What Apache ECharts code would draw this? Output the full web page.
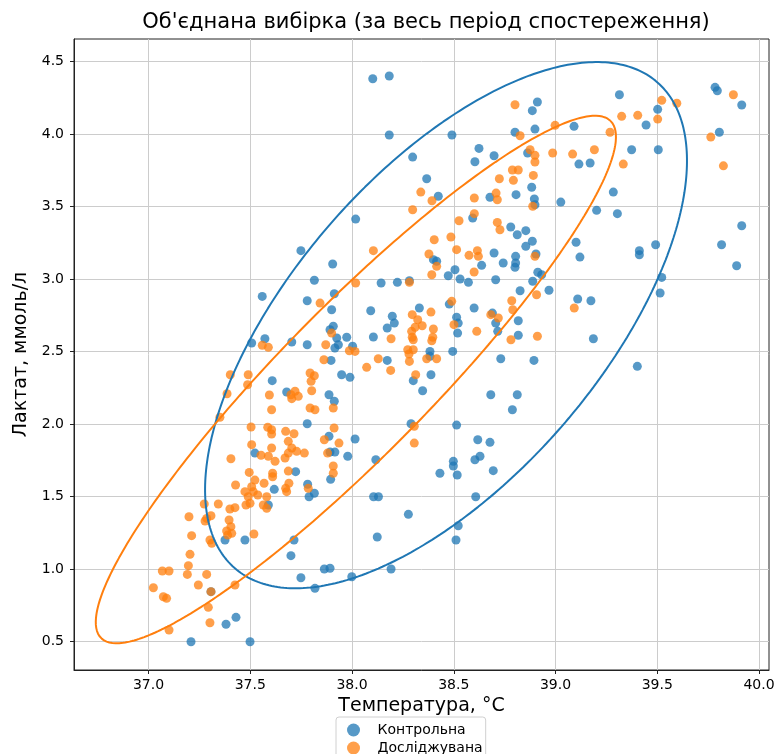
<!DOCTYPE html>
<html>
<head>
<meta charset="utf-8">
<script src="https://cdn.jsdelivr.net/npm/echarts@6/dist/echarts.min.js"></script>
<style>html,body{margin:0;padding:0;background:#fff}#c{width:780px;height:754px}</style>
</head>
<body>
<div id="c"></div>
<script>
var titleText = "Об'єднана вибірка (за весь період спостереження)";
var xName = "Температура, °C";
var yName = "Лактат, ммоль/л";
var seriesNames = ["Контрольна", "Досліджувана"];
var xTicks = [37.0, 37.5, 38.0, 38.5, 39.0, 39.5, 40.0];
var yTicks = [0.5, 1.0, 1.5, 2.0, 2.5, 3.0, 3.5, 4.0, 4.5];

var controlData = [
[38.102,4.380],[38.183,4.399],[38.183,3.992],[38.491,3.992],[38.298,3.840],[38.624,3.900],[38.604,3.808],[38.698,3.849],[38.367,3.691],[38.424,3.570],[38.018,3.413],[38.911,4.220],[38.886,4.160],[38.801,4.011],[38.899,4.033],[38.863,3.868],[38.883,3.632],[38.806,3.581],[38.678,3.563],[38.896,3.551],[38.899,3.512],[38.593,3.420],[38.780,3.358],[38.812,3.305],[38.854,3.333],[38.886,3.260],[38.854,3.225],
[39.091,4.052],[39.314,4.270],[39.502,4.169],[39.445,4.061],[39.784,4.321],[39.795,4.297],[39.915,4.199],[39.805,4.011],[39.374,3.891],[39.505,3.891],[39.115,3.792],[39.170,3.799],[39.284,3.599],[39.026,3.530],[39.202,3.473],[39.304,3.450],[39.915,3.367],[39.101,3.253],[39.492,3.236],[39.816,3.236],
[37.749,3.195],[37.559,2.880],[37.780,2.850],[37.572,2.588],[37.507,2.559],[37.704,2.566],[37.780,2.547],[37.608,2.299],[37.679,2.221],[37.780,2.002],[37.523,1.800],
[37.723,1.672],[37.618,1.550],[37.589,1.442],[37.376,1.201],[37.474,1.201],[37.715,1.201],[37.700,1.093],[37.749,0.941],[37.307,0.845],[37.381,0.620],[37.430,0.668],[37.209,0.500],[37.499,0.500],
[38.400,3.133],[38.416,3.122],[37.905,3.103],[38.698,3.179],[38.804,3.156],[38.804,3.110],[38.801,3.080],[38.904,3.172],[38.637,3.094],[38.743,3.110],[38.506,3.064],[38.473,3.022],[38.531,3.000],[38.572,2.977],[38.706,2.995],[38.888,2.984],[38.913,3.046],[37.815,2.991],[38.143,2.972],[38.223,2.977],[38.282,2.988],[37.913,2.898],[37.900,2.788],[38.092,2.781],[38.331,2.800],[38.478,2.827],[38.600,2.800],[38.690,2.765],[38.706,2.696],[38.817,2.712],[38.826,2.919],[38.198,2.743],[38.208,2.696],[38.173,2.662],[38.105,2.600],[38.514,2.736],[38.522,2.696],[38.519,2.627],[38.716,2.639],[38.817,2.612],[37.892,2.650],[37.908,2.674],[37.925,2.593],[37.933,2.547],[37.974,2.598],[37.916,2.524],[38.003,2.536],[37.897,2.439],[38.173,2.439],[38.383,2.501],[38.383,2.467],[38.495,2.501],[38.301,2.299],[38.388,2.340],[38.347,2.230],[38.731,2.450],[38.894,2.439],[38.682,2.202],[38.812,2.202],[38.788,2.099],[37.949,2.340],[37.990,2.322],[37.887,2.202],[37.913,2.157],[38.290,2.002],[38.514,1.993],[38.015,1.897],[37.887,1.916],[37.892,1.807],[37.916,1.807],[37.979,1.778],[38.117,1.754],[38.618,1.892],[38.678,1.874],[38.604,1.754],[38.629,1.778],[38.498,1.743],
[37.895,1.619],[37.782,1.585],[37.815,1.523],[37.789,1.499],[38.106,1.499],[38.130,1.499],[38.277,1.378],[38.124,1.222],[38.432,1.661],[38.498,1.711],[38.517,1.649],[38.694,1.679],[38.608,1.499],[38.522,1.299],[38.511,1.201],[37.864,1.001],[37.892,1.006],[37.999,0.948],[38.192,1.001],[37.818,0.868],
[39.120,3.151],[39.412,3.195],[39.412,3.167],[39.890,3.091],[39.522,3.011],[39.514,2.903],[38.932,3.029],[38.968,2.922],[39.109,2.862],[39.174,2.850],[39.186,2.588],[39.402,2.398]
];

var studyData = [
[38.338,3.599],[38.393,3.539],[38.298,3.477],[38.801,4.201],[38.826,3.987],[38.875,3.891],[38.899,3.852],[38.899,3.806],[38.788,3.751],[38.817,3.751],[38.891,3.714],[38.724,3.691],[38.793,3.680],[38.708,3.592],[38.714,3.546],[38.601,3.558],[38.888,3.501],[38.601,3.450],[38.526,3.401],[38.714,3.390],[38.727,3.339],[38.404,3.270],[38.486,3.289],[38.105,3.195],
[38.998,4.059],[39.522,4.231],[39.596,4.211],[39.325,4.121],[39.404,4.128],[39.502,4.102],[39.268,4.011],[39.874,4.270],[39.763,3.978],[39.825,3.780],[38.986,3.868],[39.084,3.861],[39.191,3.891],[39.333,3.792],
[37.559,2.543],[37.589,2.529],[37.402,2.340],[37.490,2.340],[37.487,2.271],[37.386,2.209],[37.594,2.200],[37.700,2.202],[37.720,2.226],[37.736,2.191],[37.704,2.175],[37.605,2.099],[37.351,2.047],[37.504,1.980],[37.586,1.978],[37.605,1.961],[37.605,1.931],[37.674,1.950],[37.715,1.933],[37.687,1.881],[37.507,1.858],[37.605,1.835],[37.704,1.835],[37.728,1.812],[37.766,1.800],[37.687,1.800],[37.671,1.766],[37.553,1.785],[37.589,1.778],[37.622,1.743],[37.405,1.761],
[37.495,1.667],[37.610,1.661],[37.610,1.637],[37.687,1.676],[37.523,1.614],[37.568,1.592],[37.428,1.580],[37.507,1.568],[37.474,1.534],[37.515,1.534],[37.537,1.511],[37.490,1.499],[37.499,1.454],[37.479,1.442],[37.581,1.499],[37.674,1.557],[37.679,1.534],[37.690,1.592],[37.564,1.442],[37.581,1.419],[37.274,1.449],[37.343,1.449],[37.400,1.415],[37.425,1.424],[37.199,1.361],[37.307,1.368],[37.286,1.350],[37.278,1.332],[37.396,1.339],[37.405,1.293],[37.384,1.263],[37.409,1.247],[37.389,1.235],[37.518,1.242],[37.212,1.231],[37.302,1.201],[37.311,1.178],[37.204,1.102],[37.196,1.024],[37.068,0.987],[37.101,0.987],[37.191,0.964],[37.286,0.964],[37.245,0.891],[37.024,0.872],[37.425,0.891],[37.307,0.845],[37.073,0.810],[37.089,0.799],[37.294,0.737],[37.302,0.631],[37.101,0.581],
[38.378,3.172],[38.416,3.087],[38.392,3.029],[38.514,3.202],[38.575,3.163],[38.616,3.195],[38.621,3.156],[38.899,3.156],[38.600,3.048],[38.282,2.977],[38.018,2.972],[37.843,2.834],[38.388,2.772],[38.490,2.846],[38.682,2.754],[38.719,2.731],[38.785,2.850],[38.790,2.788],[38.907,2.891],[38.296,2.754],[38.323,2.719],[38.345,2.678],[38.293,2.639],[38.310,2.667],[38.400,2.655],[38.192,2.588],[38.296,2.598],[38.301,2.581],[38.397,2.598],[38.392,2.574],[38.501,2.685],[38.613,2.639],[38.781,2.581],[38.911,2.605],[37.900,2.627],[37.871,2.547],[37.987,2.505],[38.015,2.501],[37.862,2.443],[38.072,2.391],[38.129,2.450],[38.190,2.370],[38.274,2.512],[38.301,2.512],[38.280,2.483],[38.282,2.432],[38.367,2.450],[38.416,2.450],[38.313,2.340],[37.794,2.352],[37.815,2.333],[37.799,2.295],[37.802,2.230],[37.794,2.111],[37.818,2.099],[37.908,2.111],[37.912,1.973],[38.306,1.985],[38.306,1.869],[37.864,1.892],[37.936,1.869],[37.880,1.800],
[37.908,1.711],[37.908,1.661],[37.785,1.557],
[39.092,2.800]
];

// confidence ellipse parameters: [meanX, meanY, halfWidthX, halfHeightY, correlation]
var controlEllipse = [38.462, 2.6815, 1.184, 1.8135, 0.625];
var studyEllipse = [38.019, 2.307, 1.278, 1.818, 0.92];

function ellipsePoints(p) {
  var cx = p[0], cy = p[1], sx = p[2], sy = p[3], rho = p[4];
  var rx = Math.sqrt(1 + rho), ry = Math.sqrt(1 - rho);
  var pts = [];
  for (var i = 0; i <= 360; i++) {
    var t = i * Math.PI / 180;
    var u = rx * Math.cos(t), v = ry * Math.sin(t);
    pts.push([cx + sx * (u - v) / Math.SQRT2, cy + sy * (u + v) / Math.SQRT2]);
  }
  return pts;
}

var BLUE = '#1f77b4', ORANGE = '#ff7f0e';
var FONT = 'DejaVu Sans';

var chart = echarts.init(document.getElementById('c'), null, {renderer: 'canvas'});
chart.setOption({
  animation: false,
  backgroundColor: '#fff',
  title: {
    text: titleText, left: 421, top: 7, textAlign: 'center',
    textStyle: {fontFamily: FONT, fontSize: 21, fontWeight: 'normal', color: '#000'}
  },
  legend: {
    data: seriesNames,
    orient: 'vertical', left: 336, top: 717, height: 60,
    padding: [6, 3, 5, 11], itemGap: 4, itemWidth: 18, itemHeight: 13,
    icon: 'circle',
    backgroundColor: '#fff', borderColor: '#d0d0d0', borderWidth: 1, borderRadius: 3,
    itemStyle: {opacity: 0.75},
    textStyle: {fontFamily: FONT, fontSize: 14, color: '#000', padding: [0, 0, 0, 10]}
  },
  grid: {left: 74, right: 11, top: 39, bottom: 84, show: true, borderColor: '#222', borderWidth: 1, containLabel: false, outerBoundsMode: 'none'},
  xAxis: {
    type: 'value', min: 36.634, max: 40.049,
    name: xName, nameLocation: 'middle', nameGap: 26,
    nameTextStyle: {fontFamily: FONT, fontSize: 19, color: '#000'},
    axisLine: {show: true, lineStyle: {color: '#222'}},
    axisTick: {show: true, inside: false, length: 4, lineStyle: {color: '#222'}, customValues: xTicks},
    axisLabel: {fontFamily: FONT, fontSize: 14, color: '#000', margin: 8, customValues: xTicks, formatter: function (v) { return v.toFixed(1); }},
    splitLine: {show: true, lineStyle: {color: '#cccccc', width: 1}}
  },
  yAxis: {
    type: 'value', min: 0.305, max: 4.654,
    name: yName, nameLocation: 'middle', nameGap: 42,
    nameTextStyle: {fontFamily: FONT, fontSize: 19, color: '#000'},
    axisLine: {show: true, lineStyle: {color: '#222'}},
    axisTick: {show: true, inside: false, length: 4, lineStyle: {color: '#222'}, customValues: yTicks},
    axisLabel: {fontFamily: FONT, fontSize: 14, color: '#000', margin: 10, customValues: yTicks, formatter: function (v) { return v.toFixed(1); }},
    splitLine: {show: true, lineStyle: {color: '#cccccc', width: 1}}
  },
  series: [
    {name: seriesNames[0], type: 'scatter', data: controlData, symbolSize: 9, itemStyle: {color: BLUE, opacity: 0.75}, z: 2},
    {name: seriesNames[1], type: 'scatter', data: studyData, symbolSize: 9, itemStyle: {color: ORANGE, opacity: 0.75}, z: 3},
    {name: 'ellipse-control', type: 'line', data: ellipsePoints(controlEllipse), showSymbol: false, symbol: 'none', smooth: false, lineStyle: {color: BLUE, width: 2}, z: 4, silent: true},
    {name: 'ellipse-study', type: 'line', data: ellipsePoints(studyEllipse), showSymbol: false, symbol: 'none', smooth: false, lineStyle: {color: ORANGE, width: 2}, z: 5, silent: true}
  ]
});
</script>
</body>
</html>
